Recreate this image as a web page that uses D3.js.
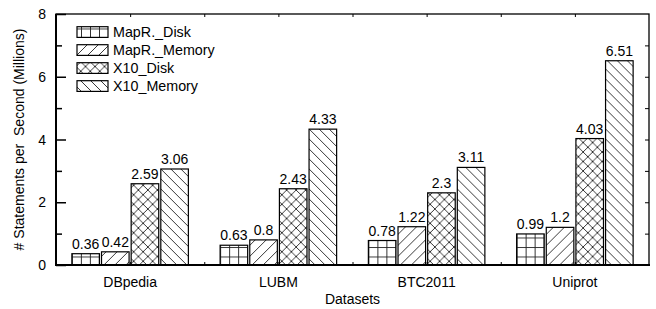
<!DOCTYPE html>
<html>
<head>
<meta charset="utf-8">
<script src="https://cdn.jsdelivr.net/npm/d3@7"></script>
<style>
  html, body { margin: 0; padding: 0; background: #fff; }
  text { font-family: "Liberation Sans", Arial, sans-serif; fill: #000; }
</style>
</head>
<body>
<svg id="chart" width="656" height="309"></svg>
<script>
// ---- data ----
const categories = ["DBpedia", "LUBM", "BTC2011", "Uniprot"];
const series = ["MapR._Disk", "MapR._Memory", "X10_Disk", "X10_Memory"];
const mapRDisk   = [0.36, 0.63, 0.78, 0.99];
const mapRMemory = [0.42, 0.8, 1.22, 1.2];
const x10Disk    = [2.59, 2.43, 2.3, 4.03];
const x10Memory  = [3.06, 4.33, 3.11, 6.51];
const yTicks = [0, 2, 4, 6, 8];
const yLabel = "# Statements per  Second (Millions)";
const xLabel = "Datasets";

const values = [mapRDisk, mapRMemory, x10Disk, x10Memory];
const patternIds = ["pGrid", "pFwd", "pCross", "pBack"];

const svg = d3.select("#chart");
const L = 56, R = 649, T = 14, B = 265;

const x0 = d3.scaleBand().domain(categories).range([L, R]).padding(0);
const groupW = 116.5;
const x1 = d3.scaleBand().domain(series).range([0, groupW]).paddingInner(0.07).paddingOuter(0);
const y = d3.scaleLinear().domain([0, 8]).range([B, T]);
const xt = d3.scaleLinear().domain([0, 8]).range([L, R]);

// ---- patterns ----
const defs = svg.append("defs");
const hs = "#222", hw = 0.9;
{
  const p = defs.append("pattern").attr("id", "pGrid").attr("patternUnits", "userSpaceOnUse")
    .attr("width", 9).attr("height", 9.5);
  p.append("rect").attr("width", 9).attr("height", 9.5).attr("fill", "#fff");
  p.append("line").attr("x1", 0.5).attr("y1", 0).attr("x2", 0.5).attr("y2", 9.5).attr("stroke", hs).attr("stroke-width", hw);
  p.append("line").attr("x1", 0).attr("y1", 0.5).attr("x2", 9).attr("y2", 0.5).attr("stroke", hs).attr("stroke-width", hw);
}
{
  const s = 11;
  const p = defs.append("pattern").attr("id", "pFwd").attr("patternUnits", "userSpaceOnUse")
    .attr("width", s).attr("height", s);
  p.append("rect").attr("width", s).attr("height", s).attr("fill", "#fff");
  p.append("path").attr("d", `M0,${s} L${s},0 M${-s/2},${s/2} L${s/2},${-s/2} M${s/2},${s*1.5} L${s*1.5},${s/2}`)
    .attr("stroke", hs).attr("stroke-width", hw);
}
{
  const s = 9.5;
  const p = defs.append("pattern").attr("id", "pCross").attr("patternUnits", "userSpaceOnUse")
    .attr("width", s).attr("height", s);
  p.append("rect").attr("width", s).attr("height", s).attr("fill", "#fff");
  p.append("path").attr("d", `M0,${s} L${s},0 M0,0 L${s},${s} M${-s/2},${s/2} L${s/2},${-s/2} M${s/2},${s*1.5} L${s*1.5},${s/2} M${-s/2},${s/2} L${s/2},${s*1.5} M${s/2},${-s/2} L${s*1.5},${s/2}`)
    .attr("stroke", hs).attr("stroke-width", hw);
}
{
  const s = 10;
  const p = defs.append("pattern").attr("id", "pBack").attr("patternUnits", "userSpaceOnUse")
    .attr("width", s).attr("height", s);
  p.append("rect").attr("width", s).attr("height", s).attr("fill", "#fff");
  p.append("path").attr("d", `M0,0 L${s},${s} M${-s/2},${s/2} L${s/2},${s*1.5} M${s/2},${-s/2} L${s*1.5},${s/2}`)
    .attr("stroke", hs).attr("stroke-width", hw);
}

// ---- bars ----
const groups = svg.append("g").selectAll("g").data(categories).join("g")
  .attr("transform", d => `translate(${x0(d) + x0.bandwidth()/2 - groupW/2},0)`);

groups.each(function(cat, ci) {
  const g = d3.select(this);
  series.forEach((s, si) => {
    const v = values[si][ci];
    g.append("rect")
      .attr("x", x1(s)).attr("width", x1.bandwidth())
      .attr("y", y(v)).attr("height", y(0) - y(v))
      .attr("fill", `url(#${patternIds[si]})`)
      .attr("stroke", "#000").attr("stroke-width", 1.2);
    g.append("text")
      .attr("x", x1(s) + x1.bandwidth()/2).attr("y", y(v) - 5)
      .attr("text-anchor", "middle").attr("font-size", 14)
      .text(String(v));
  });
});

// ---- axes ----
const ax = svg.append("g");
ax.append("rect").attr("x", L).attr("y", T).attr("width", R - L).attr("height", B - T)
  .attr("fill", "none").attr("stroke", "#000").attr("stroke-width", 1.3);
ax.append("line").attr("x1", L).attr("x2", L).attr("y1", T).attr("y2", B).attr("stroke", "#000").attr("stroke-width", 2);
ax.append("line").attr("x1", L - 1).attr("x2", R + 1).attr("y1", B).attr("y2", B).attr("stroke", "#000").attr("stroke-width", 2);

const yAxisL = d3.axisRight(y).tickValues(yTicks).tickSize(10).tickFormat("");
const gl = ax.append("g").attr("transform", `translate(${L},0)`).call(yAxisL);
gl.select(".domain").remove();
gl.selectAll("line").attr("stroke-width", 1.5);
const yAxisLm = d3.axisRight(y).tickValues([1, 3, 5, 7]).tickSize(6).tickFormat("");
const glm = ax.append("g").attr("transform", `translate(${L},0)`).call(yAxisLm);
glm.select(".domain").remove();
glm.selectAll("line").attr("stroke-width", 1.5);
ax.selectAll(".ylab").data(yTicks).join("text").attr("class", "ylab")
  .attr("x", L - 10).attr("y", d => y(d) + 5).attr("text-anchor", "end").attr("font-size", 14)
  .text(d => d);

const yAxisR = d3.axisLeft(y).tickValues(d3.range(1, 8)).tickSize(4).tickFormat("");
const gr = ax.append("g").attr("transform", `translate(${R},0)`).call(yAxisR);
gr.select(".domain").remove();

const xTop = d3.axisBottom(xt).tickValues(d3.range(1, 8)).tickSize(3).tickFormat("");
const gt = ax.append("g").attr("transform", `translate(0,${T})`).call(xTop);
gt.select(".domain").remove();
const xBot = d3.axisTop(xt).tickValues(d3.range(1, 8)).tickSize(3).tickFormat("");
const gb = ax.append("g").attr("transform", `translate(0,${B})`).call(xBot);
gb.select(".domain").remove();

ax.selectAll(".xlab").data(categories).join("text").attr("class", "xlab")
  .attr("x", d => x0(d) + x0.bandwidth()/2).attr("y", 287)
  .attr("text-anchor", "middle").attr("font-size", 14).text(d => d);

svg.append("text").attr("x", (L + R)/2).attr("y", 304).attr("text-anchor", "middle")
  .attr("font-size", 14).text(xLabel);
svg.append("text").attr("transform", `translate(24,${(T + B)/2}) rotate(-90)`)
  .attr("text-anchor", "middle").attr("font-size", 14).attr("xml:space", "preserve")
  .style("white-space", "pre").text(yLabel);

// ---- legend ----
const lg = svg.append("g");
series.forEach((s, i) => {
  const yy = 26.7 + i * 18;
  lg.append("rect").attr("x", 77).attr("y", yy).attr("width", 31).attr("height", 10.7)
    .attr("fill", `url(#${patternIds[i]})`).attr("stroke", "#000").attr("stroke-width", 1.2);
  lg.append("text").attr("x", 113).attr("y", yy + 10.7).attr("font-size", 14.3).text(s);
});
</script>
</body>
</html>
